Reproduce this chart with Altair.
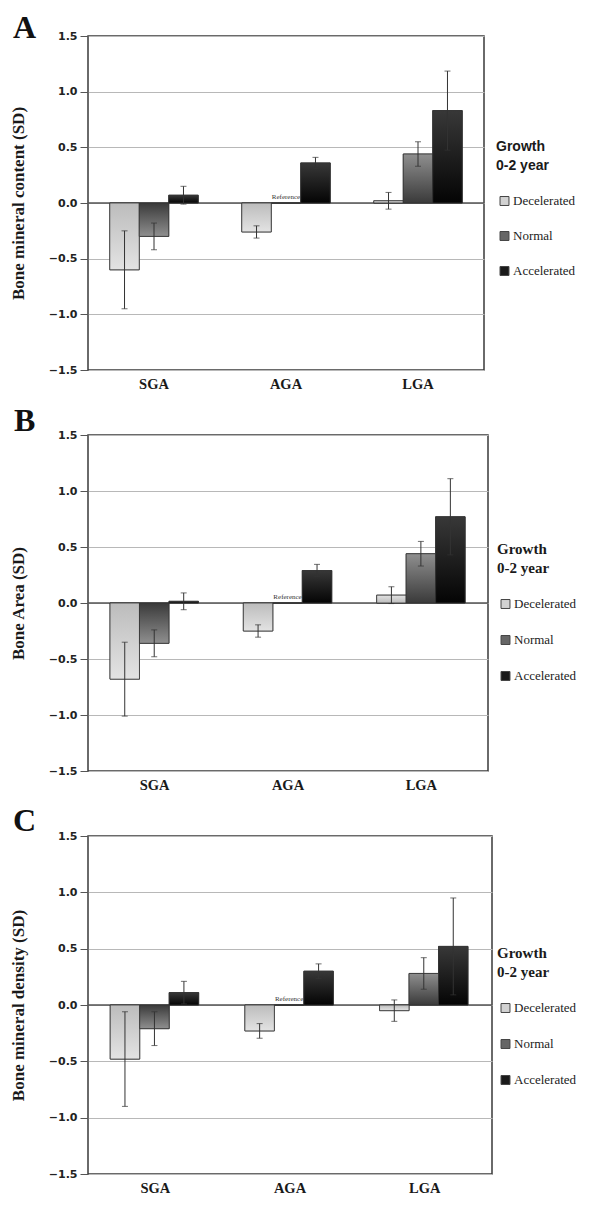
import altair as alt
import pandas as pd

categories = ["SGA", "AGA", "LGA"]
growth = ["Decelerated", "Normal", "Accelerated"]

# Panel A: Bone mineral content (SD)
bmc_mean = [[-0.60, -0.30, 0.07], [-0.26, 0.00, 0.36], [0.02, 0.44, 0.83]]
bmc_err = [[0.35, 0.12, 0.08], [0.055, 0.0, 0.05], [0.075, 0.11, 0.355]]
# Panel B: Bone Area (SD)
ba_mean = [[-0.68, -0.36, 0.015], [-0.25, 0.00, 0.29], [0.07, 0.44, 0.77]]
ba_err = [[0.33, 0.12, 0.075], [0.055, 0.0, 0.055], [0.075, 0.11, 0.34]]
# Panel C: Bone mineral density (SD)
bmd_mean = [[-0.48, -0.21, 0.11], [-0.23, 0.00, 0.30], [-0.05, 0.28, 0.52]]
bmd_err = [[0.42, 0.15, 0.10], [0.065, 0.0, 0.065], [0.095, 0.14, 0.43]]

y_ticks = [-1.5, -1.0, -0.5, 0.0, 0.5, 1.0, 1.5]
legend_title = ["Growth", "0-2 year"]

solid = ["#d2d2d2", "#666666", "#1a1a1a"]
# (base colour at zero line, tip colour at bar end)
grad_cols = {"Decelerated": ("#bcbcbc", "#e3e3e3"),
             "Normal": ("#3a3a3a", "#8f8f8f"),
             "Accelerated": ("#040404", "#383838")}


def grad(top, bottom):
    return {"gradient": "linear", "x1": 0, "y1": 0, "x2": 0, "y2": 1,
            "stops": [{"offset": 0, "color": top}, {"offset": 1, "color": bottom}]}


def make_df(means, errs):
    rows = []
    for i, c in enumerate(categories):
        for j, g in enumerate(growth):
            rows.append({"category": c, "growth": g, "value": means[i][j],
                         "err": errs[i][j],
                         "lo": means[i][j] - errs[i][j],
                         "hi": means[i][j] + errs[i][j]})
    return pd.DataFrame(rows)


def panel(means, errs, letter, letter_x, letter_y, ytitle, w, h, lx, ly, title_font,
          title_size, row_pad):
    df = make_df(means, errs)
    df_err = df[df["err"] > 0]
    xenc = alt.X("category:N", sort=categories, title=None,
                 scale=alt.Scale(paddingInner=0.33, paddingOuter=0.165),
                 axis=alt.Axis(labelAngle=0, ticks=False, domain=False,
                               labelFont="Liberation Serif", labelFontWeight="bold",
                               labelFontSize=14.5, labelPadding=7, labelColor="#1a1a1a"))
    xoff = alt.XOffset("growth:N", sort=growth,
                       scale=alt.Scale(domain=growth, paddingInner=0, paddingOuter=0))
    yenc = alt.Y("value:Q", title=ytitle,
                 scale=alt.Scale(domain=[-1.5, 1.5], nice=False, zero=True),
                 axis=alt.Axis(values=y_ticks, format=".1f", labelFont="DejaVu Sans",
                               labelFontWeight="bold", labelFontSize=11,
                               labelColor="#222222", tickSize=8, tickColor="#555555",
                               labelPadding=3, grid=True, gridColor="#b8b8b8",
                               gridWidth=1, domain=False,
                               titleFont="Liberation Serif", titleFontSize=17,
                               titleFontWeight="bold", titleColor="#1a1a1a",
                               titlePadding=21))

    zero = alt.Chart(pd.DataFrame({"z": [0.0]})).mark_rule(
        color="#555555", strokeWidth=1.3).encode(y=alt.Y("z:Q"))

    base = alt.Chart(df).mark_bar(stroke="#333333", strokeWidth=0.8).encode(
        x=xenc, xOffset=xoff, y=yenc,
        color=alt.Color("growth:N", sort=growth,
                        scale=alt.Scale(domain=growth, range=solid),
                        legend=alt.Legend(
                            title=legend_title, orient="none", legendX=lx, legendY=ly,
                            direction="vertical", padding=0,
                            titleFont=title_font, titleFontSize=title_size,
                            titleFontWeight="bold", titleColor="#1a1a1a",
                            titleLineHeight=18.5, titlePadding=22,
                            labelFont="Liberation Serif", labelFontSize=13,
                            labelColor="#222222", symbolType="square", symbolSize=80,
                            symbolStrokeColor="#444444", symbolStrokeWidth=1,
                            symbolOffset=2, labelOffset=2, rowPadding=row_pad)))

    overlays = []
    for g in growth:
        b, t = grad_cols[g]
        overlays.append(
            alt.Chart(df).transform_filter(alt.datum.growth == g)
            .mark_bar(stroke="#333333", strokeWidth=0.8)
            .encode(x=xenc, xOffset=xoff, y=yenc,
                    fill=alt.condition("datum.value < 0", alt.value(grad(b, t)),
                                       alt.value(grad(t, b)))))

    rules = alt.Chart(df_err).mark_rule(color="#333333", strokeWidth=1).encode(
        x=xenc, xOffset=xoff, y=alt.Y("lo:Q"), y2="hi:Q")
    cap_lo = alt.Chart(df_err).mark_tick(color="#333333", thickness=1, size=6).encode(
        x=xenc, xOffset=xoff, y=alt.Y("lo:Q"))
    cap_hi = alt.Chart(df_err).mark_tick(color="#333333", thickness=1, size=6).encode(
        x=xenc, xOffset=xoff, y=alt.Y("hi:Q"))

    ref = alt.Chart(pd.DataFrame({"category": ["AGA"], "growth": ["Normal"],
                                  "value": [0.0], "label": ["Reference"]})).mark_text(
        font="Liberation Serif", fontSize=7, baseline="alphabetic", dy=-4,
        color="#333333").encode(x=xenc, xOffset=xoff, y=alt.Y("value:Q"), text="label:N")

    let = alt.Chart(pd.DataFrame({"t": [letter]})).mark_text(
        align="left", baseline="top", font="Liberation Serif", fontSize=32,
        fontWeight="bold", color="#111111").encode(
        text="t:N", x=alt.value(letter_x), y=alt.value(letter_y))

    return alt.layer(zero, base, *overlays, rules, cap_lo, cap_hi, ref, let).properties(
        width=w, height=h)


pA = panel(bmc_mean, bmc_err, "A", -75, -23.5, "Bone mineral content (SD)", 396, 334,
           408, 104, "Liberation Sans", 14, 21)
pB = panel(ba_mean, ba_err, "B", -74, -29.5, "Bone Area (SD)", 400, 336, 409, 107,
           "Liberation Serif", 15, 22)
pC = panel(bmd_mean, bmd_err, "C", -75, -30, "Bone mineral density (SD)", 404, 338,
           409, 110, "Liberation Serif", 15, 22)

chart = alt.vconcat(pA, pB, pC, spacing=65, bounds="flush").resolve_scale(
    color="independent", x="independent", y="independent").resolve_legend(
    color="independent").properties(
    padding={"left": 0, "top": 2, "right": 0, "bottom": 0}).configure_view(
    stroke="#3a3a3a", strokeWidth=1.5)

chart.save("out.html", embed_options={"renderer": "svg", "actions": False})
